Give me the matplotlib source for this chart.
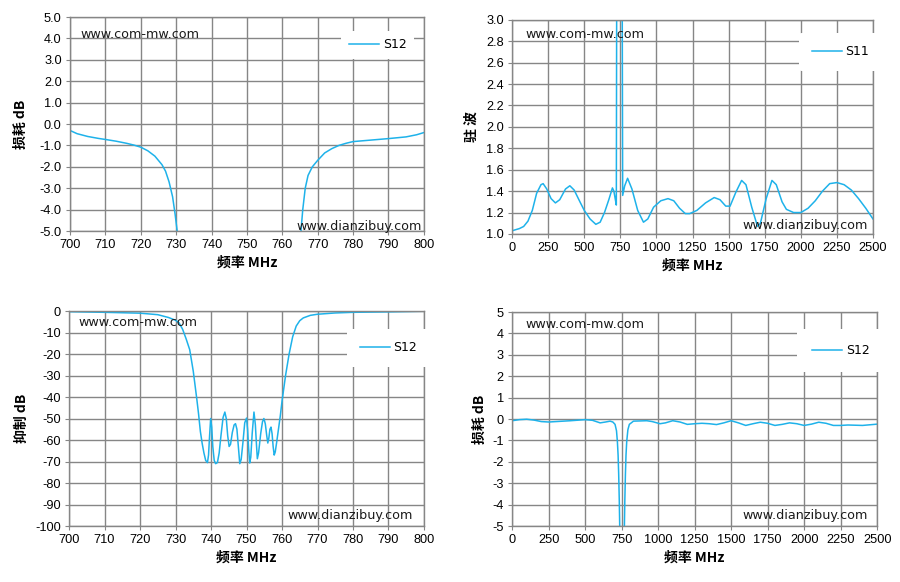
import numpy as np
import matplotlib
matplotlib.use("Agg")
import matplotlib.pyplot as plt

plt.rcParams['font.family'] = ['DejaVu Sans', 'Noto Sans CJK SC']

# ---- data ----
# top left: S12 loss, 700-800 MHz (two branches, the notch is off scale)
f_loss_left = [700, 702, 705, 708, 710, 713, 716, 718, 720, 722, 724, 726, 727, 728, 729, 729.7, 730.3, 730.8]
loss_left = [-0.3, -0.45, -0.58, -0.67, -0.72, -0.8, -0.9, -0.98, -1.08, -1.25, -1.5, -1.9, -2.2, -2.7, -3.4, -4.2, -5.0, -6.0]
f_loss_right = [765.0, 765.3, 765.8, 766.5, 767.3, 768.5, 770, 772, 774, 776, 778, 780, 785, 790, 795, 798, 800]
loss_right = [-6.0, -5.0, -4.0, -3.0, -2.4, -2.0, -1.7, -1.35, -1.15, -1.0, -0.9, -0.82, -0.75, -0.68, -0.6, -0.5, -0.4]

# top right: VSWR S11, 0-2500 MHz
f_vswr = [0, 50, 80, 110, 140, 170, 200, 215, 240, 270, 300, 330, 370, 400, 430, 470, 500,
          540, 580, 610, 640, 670, 695, 705, 718, 722, 725, 762, 766, 780, 800, 830, 870,
          910, 940, 980, 1030, 1080, 1120, 1160, 1200, 1230, 1280, 1340, 1400, 1440, 1480,
          1510, 1550, 1590, 1620, 1660, 1700, 1720, 1760, 1800, 1830, 1870, 1900, 1950,
          2000, 2050, 2100, 2150, 2200, 2250, 2300, 2350, 2400, 2450, 2500]
vswr = [1.03, 1.05, 1.07, 1.12, 1.22, 1.38, 1.46, 1.47, 1.42, 1.33, 1.29, 1.32, 1.42, 1.45, 1.41, 1.30, 1.22,
        1.14, 1.09, 1.11, 1.20, 1.32, 1.43, 1.40, 1.30, 1.27, 3.6, 3.6, 1.36, 1.45, 1.52, 1.42, 1.22,
        1.11, 1.14, 1.25, 1.31, 1.33, 1.31, 1.24, 1.19, 1.19, 1.22, 1.29, 1.34, 1.32, 1.26,
        1.26, 1.39, 1.50, 1.46, 1.25, 1.07, 1.10, 1.33, 1.50, 1.46, 1.30, 1.23, 1.20,
        1.20, 1.24, 1.31, 1.40, 1.47, 1.48, 1.46, 1.41, 1.33, 1.24, 1.14]

# bottom left: rejection, 700-800 MHz
f_rej = [700, 710, 720, 725, 728, 730, 731, 732, 733, 734, 735, 736, 736.5, 737, 737.5, 738, 738.5, 739,
         739.3, 739.6, 739.9, 740.2, 740.5, 740.9, 741.3, 741.8, 742.3, 742.8, 743.4, 743.9,
         744.3, 744.7, 745.1, 745.5, 746.0, 746.5, 746.9, 747.3, 747.7, 748.1, 748.5, 749.0,
         749.5, 750.0, 750.3, 750.6, 750.9, 751.2, 751.6, 752.1, 752.5, 752.8, 753.05, 753.4,
         754.0, 754.5, 754.9, 755.3, 755.7, 756.0, 756.3, 756.6, 756.9, 757.2, 757.5, 757.8,
         758.1, 758.5, 759, 759.5, 760, 761, 762, 763, 764, 765, 766, 768, 770, 775, 780, 790, 800]
rej = [-0.3, -0.6, -1.0, -1.7, -3.0, -4.3, -5.5, -8.5, -13, -18, -28, -41, -48, -56, -61.5, -66, -69.5, -70.5,
       -67, -58, -50, -54, -63, -69.5, -71, -70.5, -66, -58, -49.5, -47,
       -50, -58, -63, -62, -56.5, -53, -52.4, -55, -63, -71, -69, -61,
       -52, -49.8, -55, -64, -70.7, -68, -57, -47, -53, -62, -68.7, -66,
       -57, -51.5, -50, -52.5, -58, -61.4, -59, -55, -54, -57, -63, -67,
       -65.5, -61, -55, -49, -42, -30, -20, -12, -7, -4.5, -3.2, -2.0, -1.5, -0.9, -0.6, -0.4, -0.1]

# bottom right: S12 loss, 0-2500 MHz
f_wide = [0, 50, 100, 150, 200, 250, 300, 400, 500, 550, 603, 640, 671, 690, 705, 715, 721, 726, 730, 734, 737, 740,
          766, 769, 772, 776, 780, 785, 793, 803, 831, 922, 960, 1013, 1050, 1100, 1150, 1200, 1250, 1300, 1350,
          1400, 1450, 1500, 1550, 1600, 1650, 1700, 1750, 1800, 1850, 1900, 1950, 2000, 2050,
          2100, 2150, 2200, 2250, 2300, 2400, 2450, 2500]
loss_wide = [-0.08, -0.03, -0.01, -0.05, -0.12, -0.14, -0.12, -0.08, -0.03, -0.06, -0.18, -0.14, -0.1, -0.14, -0.25, -0.55, -1.05, -1.7, -2.6, -3.8, -5.0, -6.0,
             -6.0, -5.0, -3.8, -2.6, -1.7, -1.05, -0.5, -0.25, -0.1, -0.08, -0.12, -0.22, -0.18, -0.08, -0.14, -0.25, -0.22, -0.2, -0.22,
             -0.26, -0.18, -0.08, -0.18, -0.3, -0.22, -0.15, -0.2, -0.3, -0.25, -0.18, -0.22, -0.3, -0.24,
             -0.15, -0.2, -0.3, -0.3, -0.28, -0.3, -0.27, -0.24]

line_color = '#1EB2EA'
grid_color = '#868686'
cjk = ['Noto Sans CJK SC', 'DejaVu Sans']

fig = plt.figure(figsize=(9, 5.82), dpi=100)

ax1 = fig.add_axes([0.0778, 0.603, 0.393, 0.3677])
ax2 = fig.add_axes([0.569, 0.598, 0.401, 0.368])
ax3 = fig.add_axes([0.0767, 0.0962, 0.3944, 0.3694])
ax4 = fig.add_axes([0.569, 0.0962, 0.4056, 0.3677])


def style(ax, xlim, xticks, ylim, yticks, yfmt, ylabel, ypad=4):
    ax.set_xlim(xlim)
    ax.set_ylim(ylim)
    ax.set_xticks(xticks)
    ax.set_yticks(yticks)
    ax.set_yticklabels([yfmt.format(v) for v in yticks])
    ax.grid(True, color=grid_color, linewidth=1.0)
    ax.set_axisbelow(True)
    for s in ax.spines.values():
        s.set_color(grid_color)
        s.set_linewidth(1.0)
    ax.tick_params(axis='both', labelsize=9.2, color=grid_color, length=3,
                   labelcolor='#000000', pad=3)
    for lab in ax.get_xticklabels() + ax.get_yticklabels():
        lab.set_family('Liberation Sans')
    ax.set_xlabel('频率 MHz', family=cjk, fontweight='bold', fontsize=10, labelpad=3)
    ax.set_ylabel(ylabel, family=cjk, fontweight='bold', fontsize=10, labelpad=ypad)


style(ax1, (700, 800), range(700, 801, 10), (-5, 5), np.arange(-5, 5.1, 1), '{:.1f}', '损耗 dB', ypad=8.5)
style(ax2, (0, 2500), range(0, 2501, 250), (1.0, 3.0), np.arange(1.0, 3.01, 0.2), '{:.1f}', '驻 波', ypad=5)
style(ax3, (700, 800), range(700, 801, 10), (-100, 0), range(-100, 1, 10), '{:d}', '抑制 dB')
style(ax4, (0, 2500), range(0, 2501, 250), (-5, 5), range(-5, 6, 1), '{:d}', '损耗 dB')

ax1.plot(f_loss_left, loss_left, color=line_color, linewidth=1.1, label='S12')
ax1.plot(f_loss_right, loss_right, color=line_color, linewidth=1.1)
ax2.plot(f_vswr, vswr, color=line_color, linewidth=1.1, label='S11')
ax3.plot(f_rej, rej, color=line_color, linewidth=1.1, label='S12')
ax4.plot(f_wide, loss_wide, color=line_color, linewidth=1.1, label='S12')

# legends (white box covering the grid)
legend_pos = [(ax1, (0.87, 0.87), 0.6), (ax2, (0.91, 0.85), 1.0),
              (ax3, (0.90, 0.83), 1.0), (ax4, (0.90, 0.82), 1.2)]
for ax, pos, pad in legend_pos:
    leg = ax.legend(loc='center', bbox_to_anchor=pos, fontsize=9, frameon=True,
                    handlelength=2.4, handletextpad=0.3, borderpad=pad, borderaxespad=0)
    leg.get_frame().set_facecolor('white')
    leg.get_frame().set_edgecolor('none')
    leg.get_frame().set_alpha(1.0)

# watermarks
marks = [(ax1, (80, 34), (296, 227)), (ax2, (525, 34), (742, 226)),
         (ax3, (78, 323), (287, 516)), (ax4, (525, 325), (742, 516))]
for ax, top, bottom in marks:
    for (px, py), txt in [(top, 'www.com-mw.com'), (bottom, 'www.dianzibuy.com')]:
        fig.text(px / 900, 1 - py / 582, txt, fontsize=9.2, color='#1a1a1a',
                 ha='left', va='center')

fig.savefig('out.png', dpi=100, facecolor='white')
